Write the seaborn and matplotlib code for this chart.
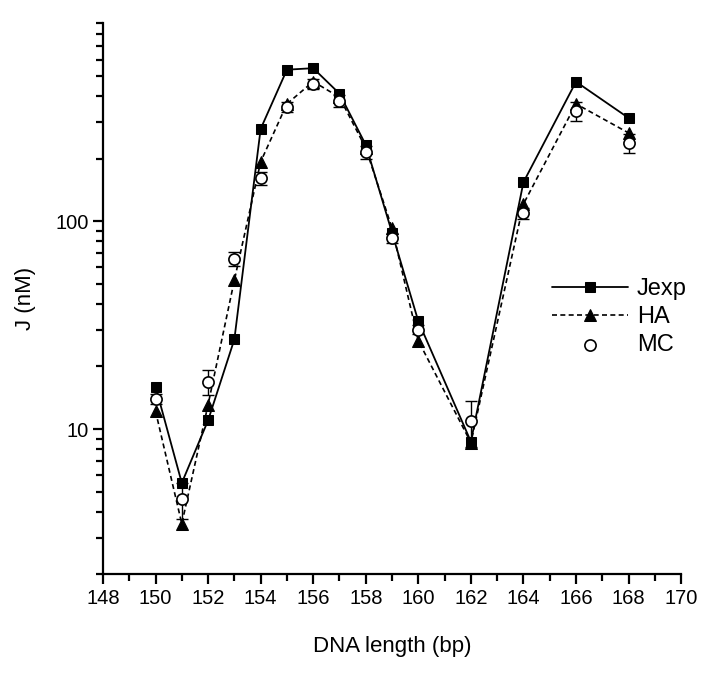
import matplotlib

matplotlib.use("Agg")
import matplotlib.pyplot as plt
import numpy as np
import pandas as pd
import seaborn as sns
from matplotlib.ticker import FixedLocator, LogLocator, NullFormatter, MultipleLocator

# DNA length (bp)
lengths = [150, 151, 152, 153, 154, 155, 156, 157, 158, 159, 160, 162, 164, 166, 168]

# J (nM) for each series
jexp = [16, 5.5, 11, 27, 278, 536, 545, 411, 233, 88, 33, 8.7, 154, 469, 314]
ha = [12.2, 3.5, 13.1, 52, 193, 367, 470, 395, 225, 92.5, 26.6, 8.6, 121, 367, 266]
mc = [14, 4.6, 16.9, 66, 161, 355, 459, 380, 215, 82.8, 30.1, 10.9, 109, 340, 238]
mc_err = [0.8, 0.9, 2.3, 5, 12, 20, 25, 25, 15, 4, 1.5, 2.7, 7, 35, 25]

df = pd.DataFrame({"length": lengths, "Jexp": jexp, "HA": ha, "MC": mc, "err": mc_err})

sns.set_style("ticks")
plt.rcParams["font.family"] = ["Liberation Sans", "DejaVu Sans"]
for key in ["text.color", "axes.labelcolor", "xtick.color", "ytick.color", "axes.edgecolor"]:
    plt.rcParams[key] = "black"

fig, ax = plt.subplots(figsize=(7.2, 6.74), dpi=100)
fig.subplots_adjust(left=0.143, right=0.946, bottom=0.148, top=0.966)

sns.lineplot(data=df, x="length", y="Jexp", ax=ax, color="black", lw=1.3,
             marker="s", markersize=7.5, markeredgecolor="black", label="Jexp", zorder=3)
sns.lineplot(data=df, x="length", y="HA", ax=ax, color="black", lw=1.2,
             linestyle=(0, (3, 2)), marker="^", markersize=8.5,
             markeredgecolor="black", label="HA", zorder=4)
ax.errorbar(df["length"], df["MC"], yerr=df["err"], fmt="none",
            ecolor="black", elinewidth=1, capsize=4, capthick=1, zorder=5)
sns.scatterplot(data=df, x="length", y="MC", ax=ax, marker="o", s=65,
                facecolor="white", edgecolor="black", linewidth=1.2,
                label="MC", zorder=6)

ax.set_yscale("log")
ax.set_ylim(2, 900)
ax.set_xlim(148, 170)
ax.xaxis.set_major_locator(MultipleLocator(2))
ax.xaxis.set_minor_locator(MultipleLocator(1))
ax.yaxis.set_major_locator(FixedLocator([10, 100]))
ax.yaxis.set_minor_locator(LogLocator(base=10, subs=np.arange(2, 10)))
ax.yaxis.set_minor_formatter(NullFormatter())
ax.set_yticklabels(["10", "100"])

sns.despine(ax=ax)
for side in ["left", "bottom"]:
    ax.spines[side].set_linewidth(1.6)
ax.tick_params(which="major", length=7, width=1.6, labelsize=14.5, direction="out")
ax.tick_params(which="minor", length=5, width=1.6, direction="out")

ax.set_xlabel("DNA length (bp)", fontsize=16, labelpad=20)
ax.set_ylabel("J (nM)", fontsize=16, labelpad=14)

ax.legend(loc="upper left", bbox_to_anchor=(0.74, 0.575), frameon=False,
          fontsize=17, handlelength=3.2, handletextpad=0.4, labelspacing=0.25)

fig.savefig("out.png", dpi=100)
